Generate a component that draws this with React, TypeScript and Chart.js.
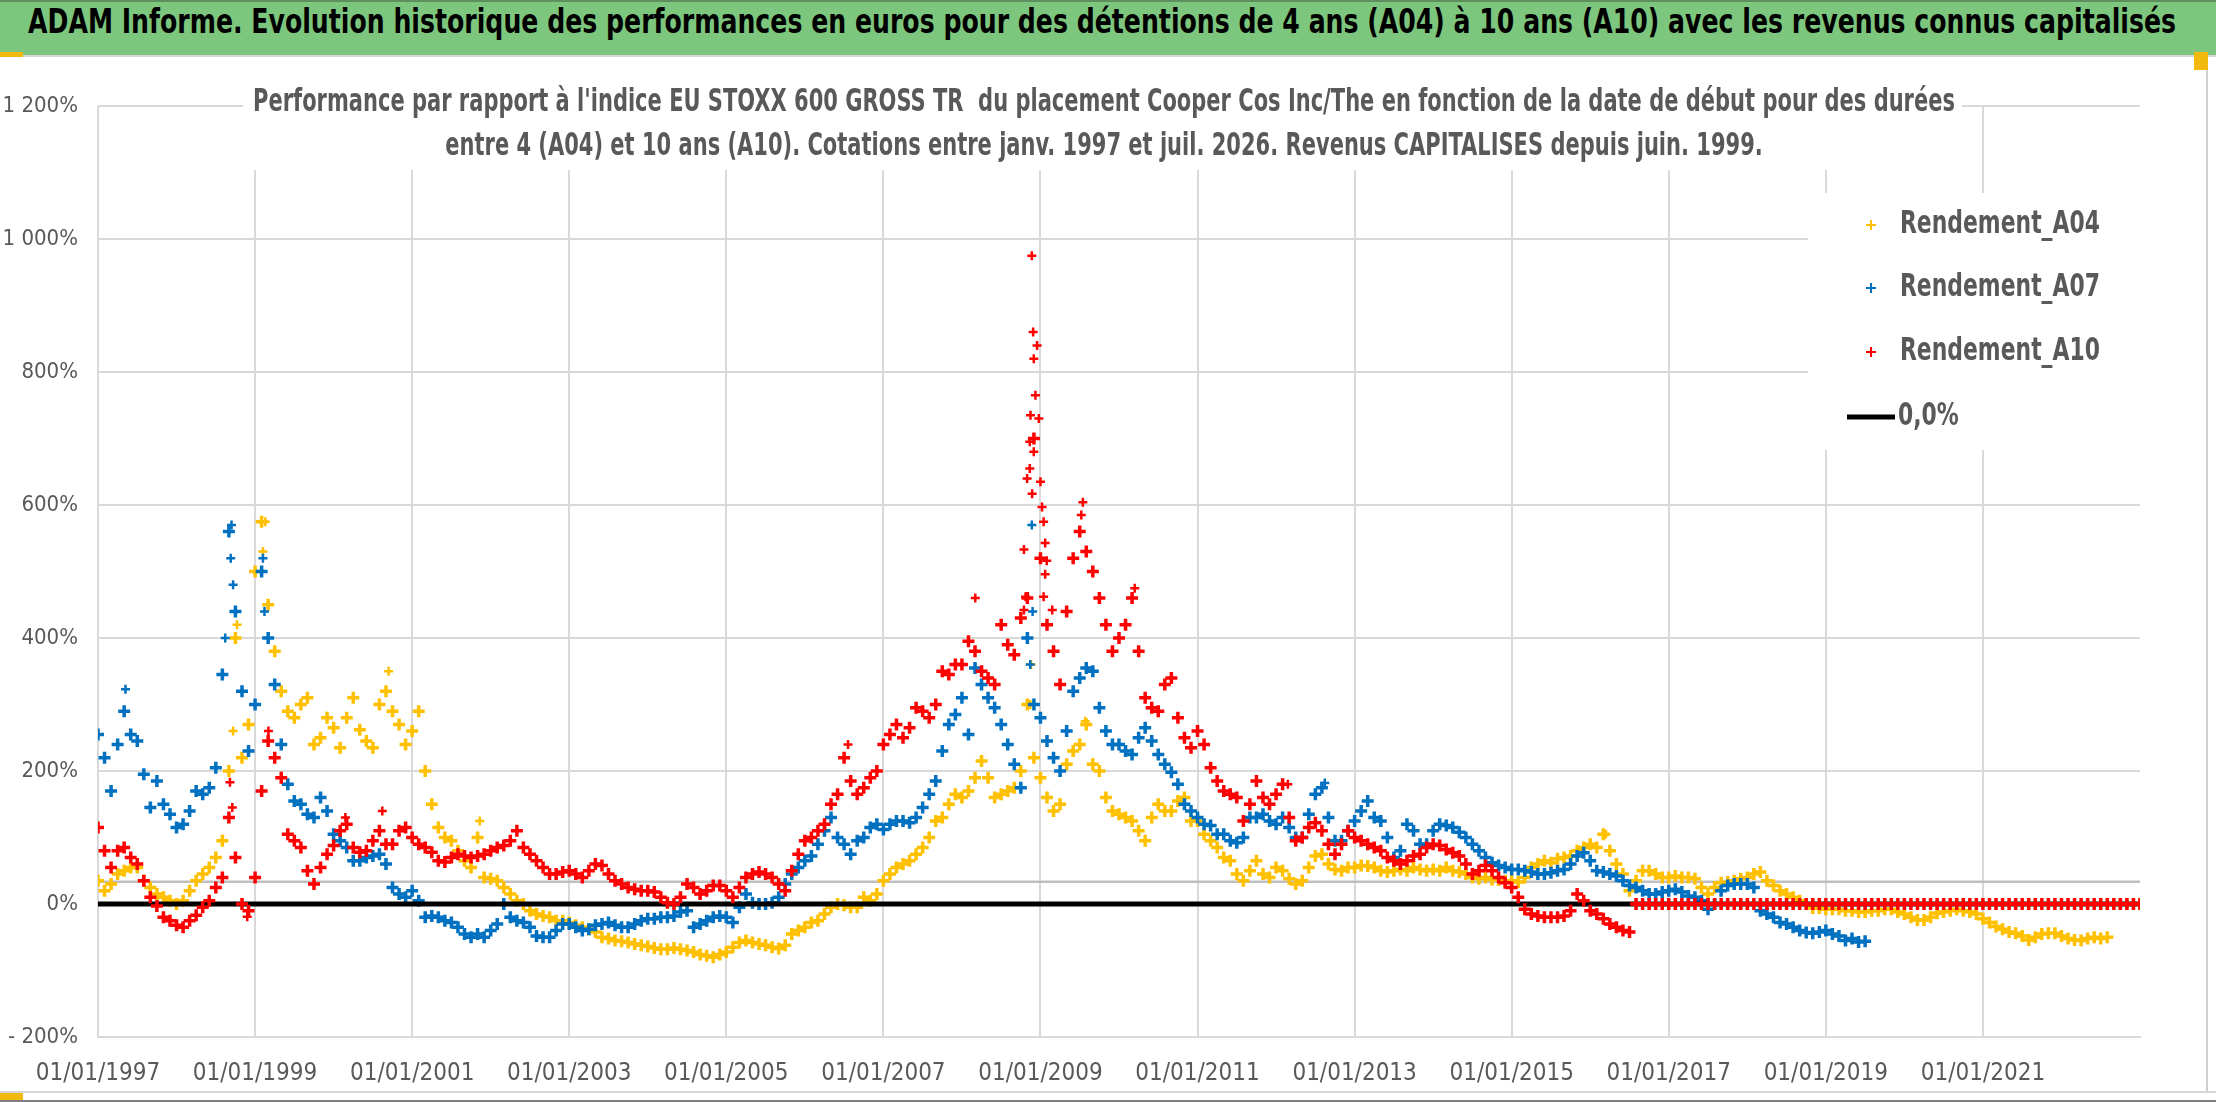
import React, { useEffect, useLayoutEffect, useRef } from "react";
import { Chart, registerables } from "chart.js";

Chart.register(...registerables);

const FONT = '"Liberation Sans Narrow", "Arial Narrow", "DejaVu Sans Condensed", "Liberation Sans", sans-serif';

// monthly readings, first value = January 1997
const startYear = 1997;
const xTickYears = [1997, 1999, 2001, 2003, 2005, 2007, 2009, 2011, 2013, 2015, 2017, 2019, 2021];

const rendementA04 = [
  35, 20, 30, 45, 50, 55, 55, 35, 25, 15, 10, 5,
  0, 5, 20, 35, 45, 55, 70, 95, 200, 400, 220, 270,
  500, 575, 450, 380, 320, 290, 280, 300, 310, 240, 250, 280,
  265, 235, 280, 310, 262, 245, 235, 300, 320, 290, 270, 240,
  260, 290, 200, 150, 115, 100, 95, 80, 65, 55, 100, 40,
  38, 35, 25, 15, 5, 0, -10, -15, -18, -20, -25, -25,
  -28, -32, -35, -38, -42, -50, -52, -55, -56, -58, -60, -62,
  -64, -66, -68, -68, -66, -68, -70, -72, -76, -78, -80, -76,
  -72, -65, -58, -55, -58, -60, -62, -65, -67, -62, -45, -40,
  -35, -28, -25, -15, -5, 0, -2, -5, -5, 10, 5, 15,
  35, 45, 55, 60, 65, 75, 85, 100, 125, 130, 150, 165,
  160, 170, 190, 215, 190, 160, 165, 170, 175, 200, 300, 220,
  190, 160, 140, 150, 210, 230, 240, 270, 210, 200, 160, 140,
  135, 130, 125, 110, 95, 130, 150, 140, 140, 155, 160, 125,
  125, 105, 95, 85, 70, 65, 45, 35, 50, 65, 45, 40,
  55, 50, 38, 30, 35, 55, 72, 75, 60, 52, 50, 55,
  55, 58, 57, 55, 50, 48, 50, 52, 50, 55, 52, 50,
  52, 50, 55, 50, 48, 45, 40, 38, 40, 37, 36, 35,
  35, 33, 40, 55, 60, 65, 62, 68, 70, 72, 80, 85,
  90, 85, 105, 80, 60, 45, 20, 35, 50, 50, 45, 40,
  40, 42, 40, 40, 38, 25, 15, 25, 32, 33, 35, 38,
  40, 45, 48, 35, 28, 20, 15, 10, 5, 0, -6, -6,
  -8, -8, -8, -10, -10, -12, -12, -10, -10, -8, -8, -12,
  -15, -20, -24, -24, -20, -14, -12, -10, -8, -10, -12, -15,
  -22, -28, -34, -38, -42, -44, -48, -54, -50, -45, -44, -44,
  -48, -52, -54, -55, -52, -50, -52, -50, 0, 0, 0, 0,
  0,
];

const rendementA07 = [
  255, 220, 170, 240, 290, 255, 245, 195, 145, 185, 150, 135,
  115, 120, 140, 170, 165, 175, 205, 345, 560, 440, 320, 230,
  300, 500, 400, 330, 240, 180, 155, 150, 135, 130, 160, 140,
  105, 95, 85, 65, 65, 70, 72, 75, 60, 25, 15, 10,
  20, 5, -20, -18, -20, -25, -28, -35, -45, -50, -45, -50,
  -40, -30, 0, -20, -25, -28, -35, -48, -50, -50, -40, -30,
  -30, -35, -40, -38, -32, -30, -28, -32, -35, -35, -30, -25,
  -22, -22, -20, -20, -18, -12, -10, -35, -30, -25, -20, -18,
  -20, -28, -5, 15, 2, 0, 0, 2, 10, 30, 45, 55,
  65, 72, 90, 110, 130, 100, 90, 75, 95, 100, 115, 120,
  112, 120, 125, 125, 122, 130, 145, 165, 185, 230, 270, 285,
  310, 255, 355, 330, 310, 295, 270, 240, 210, 175, 400, 300,
  280, 245, 220, 200, 260, 320, 340, 355, 350, 295, 260, 240,
  240, 230, 225, 250, 265, 245, 225, 210, 198, 180, 150, 140,
  130, 120, 118, 105, 105, 95, 92, 100, 130, 130, 135, 125,
  120, 130, 115, 100, 100, 135, 165, 175, 130, 95, 95, 110,
  125, 140, 155, 130, 125, 100, 70, 80, 120, 110, 90, 90,
  110, 120, 118, 115, 108, 100, 90, 80, 70, 62, 58, 55,
  52, 52, 50, 48, 45, 45, 47, 50, 52, 60, 72, 77,
  65, 50, 48, 45, 42, 35, 28, 25, 20, 15, 15, 18,
  20, 22, 18, 12, 10, 5, -8, 0, 20, 28, 30, 30,
  30, 25, -10, -15, -20, -28, -30, -35, -40, -43, -44, -42,
  -40, -45, -48, -55, -52, -57, -56,
];

const rendementA10 = [
  115, 80, 55, 80, 85, 70, 60, 35, 10, -3, -20, -25,
  -32, -35, -25, -17, -5, 5, 25, 40, 130, 70, 0, -10,
  40, 170, 245, 220, 190, 105, 95, 85, 50, 30, 55, 75,
  88, 110, 120, 85, 78, 80, 95, 110, 90, 90, 110, 115,
  100, 90, 85, 78, 65, 63, 70, 75, 72, 70, 72, 75,
  80, 85, 88, 95, 110, 85, 75, 65, 55, 45, 45, 48,
  50, 45, 40, 50, 60, 58, 45, 35, 30, 25, 22, 20,
  20, 18, 10, 2, 0, 10, 30, 25, 15, 20, 28, 28,
  20, 10, 25, 40, 45, 48, 45, 40, 30, 20, 50, 75,
  95, 100, 110, 120, 150, 165, 220, 185, 165, 175, 190, 200,
  240, 255, 270, 250, 265, 295, 290, 280, 300, 350, 345, 360,
  360, 395, 380, 350, 340, 330, 420, 390, 375, 430, 460, 700,
  520, 420, 380, 330, 440, 520, 560, 530, 500, 460, 420, 380,
  400, 420, 460, 380, 310, 295, 290, 330, 340, 280, 250, 235,
  260, 240, 205, 185, 170, 165, 160, 125, 150, 185, 160, 150,
  165, 180, 130, 95, 100, 115, 122, 110, 90, 75, 90, 110,
  100, 95, 90, 85, 80, 70, 65, 60, 65, 72, 75, 85,
  90, 88, 82, 77, 72, 60, 45, 50, 58, 50, 40, 32,
  25, 10, -8, -15, -18, -20, -20, -20, -18, -10, 15, 5,
  -10, -15, -22, -30, -35, -40, -42, 0, 0, 0, 0, 0,
  0, 0, 0, 0, 0, 0, 0, 0, 0, 0, 0, 0,
  0, 0, 0, 0, 0, 0, 0, 0, 0, 0, 0, 0,
  0, 0, 0, 0, 0, 0, 0, 0, 0, 0, 0, 0,
  0, 0, 0, 0, 0, 0, 0, 0, 0, 0, 0, 0,
  0, 0, 0, 0, 0, 0, 0, 0, 0, 0, 0, 0,
  0, 0, 0, 0, 0, 0, 0, 0, 0, 0, 0, 0,
  0,
];

// extra readings [decimal year, %] where the cloud is steep
const extraA04: [number, number][] = [
  [1998.72, 260], [1998.77, 420], [1999.1, 530], [1999.13, 575], [2000.7, 350],
  [2001.86, 125], [2008.87, 300], [2008.88, 360], [2009.57, 275], [2016.2, 105],
];
const extraA07: [number, number][] = [
  [1997.35, 323], [1998.62, 400], [1998.69, 520], [1998.7, 570], [1998.72, 480],
  [1999.1, 520], [1999.12, 440], [2008.87, 360], [2008.89, 570], [2008.9, 440], [2012.62, 182],
];
const extraA10: [number, number][] = [
  [1998.68, 183], [1998.71, 145], [1998.9, -19], [1999.17, 260], [2000.15, 130],
  [2000.62, 140], [2006.55, 240], [2008.17, 460],
  [2008.79, 442], [2008.79, 533], [2008.81, 462], [2008.83, 640], [2008.864, 655],
  [2008.864, 695], [2008.873, 735], [2008.89, 975], [2008.894, 617], [2008.907, 860],
  [2008.915, 820], [2008.915, 680], [2008.936, 765], [2008.957, 840], [2008.979, 730],
  [2009.0, 635], [2009.02, 597], [2009.04, 575], [2009.04, 462], [2009.06, 543],
  [2009.06, 496], [2009.08, 516], [2009.15, 442], [2009.52, 585], [2009.54, 604],
  [2010.2, 475], [2012.15, 180],
];

const zeroLevel = 0;
const greyLevel = 33.5;

const seriesLabels = ["Rendement_A04", "Rendement_A07", "Rendement_A10", "0,0%"];
const seriesColors = ["#FFC000", "#0070C0", "#FF0000", "#000000"];

const headerText =
  "ADAM Informe. Evolution historique des performances en euros pour des détentions de 4 ans (A04) à 10 ans (A10) avec les revenus connus capitalisés";
const titleLines = [
  "Performance par rapport à l'indice EU STOXX 600 GROSS TR  du placement Cooper Cos Inc/The en fonction de la date de début pour des durées",
  "entre 4 (A04) et 10 ans (A10). Cotations entre janv. 1997 et juil. 2026. Revenus CAPITALISES depuis juin. 1999.",
];

const toPoints = (monthly: number[], extra: [number, number][]) =>
  monthly
    .map((v, i) => ({ x: startYear + i / 12, y: v }))
    .concat(extra.map(([x, y]) => ({ x, y })));

const formatPct = (v: number) => {
  if (v < 0) return "- " + Math.abs(v) + "%";
  if (v >= 1000) return Math.floor(v / 1000) + " " + String(v % 1000).padStart(3, "0") + "%";
  return v + "%";
};

const overlayPlugin = {
  id: "overlay",
  beforeDatasetsDraw(chart: any) {
    const ctx = chart.ctx;
    ctx.save();
    ctx.fillStyle = "#FFFFFF";
    ctx.fillRect(243, 28, 1962 - 243, 113 - 28);
    ctx.fillStyle = "#595959";
    ctx.font = `bold 32px ${FONT}`;
    ctx.textBaseline = "middle";
    ctx.textAlign = "center";
    const s = 1702 / ctx.measureText(titleLines[0]).width;
    [46, 90].forEach((y, i) => {
      ctx.save();
      ctx.translate(1104, y);
      ctx.scale(s, 1);
      ctx.fillText(titleLines[i], 0, 0);
      ctx.restore();
    });
    ctx.restore();
  },
  afterDatasetsDraw(chart: any) {
    const ctx = chart.ctx;
    ctx.save();
    ctx.fillStyle = "#FFFFFF";
    ctx.fillRect(1808, 136, 2140 - 1808, 393 - 136);
    ctx.font = `bold 32px ${FONT}`;
    ctx.textBaseline = "middle";
    ctx.textAlign = "left";
    const s = 200 / ctx.measureText(seriesLabels[0]).width;
    const rows = [168, 231, 295, 360];
    rows.forEach((y, i) => {
      if (i < 3) {
        ctx.strokeStyle = seriesColors[i];
        ctx.lineWidth = 2;
        ctx.beginPath();
        ctx.moveTo(1866, y);
        ctx.lineTo(1876, y);
        ctx.moveTo(1871, y - 5);
        ctx.lineTo(1871, y + 5);
        ctx.stroke();
      } else {
        ctx.strokeStyle = "#000000";
        ctx.lineWidth = 5;
        ctx.beginPath();
        ctx.moveTo(1847, y);
        ctx.lineTo(1895, y);
        ctx.stroke();
      }
      ctx.save();
      ctx.translate(i < 3 ? 1900 : 1898, y);
      ctx.scale(s, 1);
      ctx.fillStyle = "#595959";
      ctx.fillText(seriesLabels[i], 0, 0);
      ctx.restore();
    });
    ctx.restore();
  },
};

const App: React.FC = () => {
  const chartRef = useRef<HTMLCanvasElement | null>(null);
  const chartInstance = useRef<Chart | null>(null);
  const headerRef = useRef<HTMLSpanElement | null>(null);

  useLayoutEffect(() => {
    document.body.style.margin = "0";
    const el = headerRef.current;
    if (el) {
      el.style.transform = "none";
      const w = el.getBoundingClientRect().width;
      el.style.transform = `scaleX(${2148 / w})`;
    }
  }, []);

  useEffect(() => {
    const ctx = chartRef.current?.getContext("2d");
    if (!ctx) return;
    if (chartInstance.current) chartInstance.current.destroy();

    // monthly readings get a heavier cross so they read as the dense daily cloud
    const scatterStyle = (color: string, order: number, monthlyCount: number) => ({
      pointStyle: "cross" as const,
      pointRadius: (c: any) => (c.dataIndex < monthlyCount ? 6 : 4.5),
      pointHoverRadius: 6,
      pointBorderWidth: (c: any) => (c.dataIndex < monthlyCount ? 3.5 : 2.5),
      borderColor: color,
      backgroundColor: color,
      order,
    });

    chartInstance.current = new Chart(ctx, {
      type: "scatter",
      data: {
        datasets: [
          {
            label: seriesLabels[2],
            data: toPoints(rendementA10, extraA10),
            ...scatterStyle(seriesColors[2], 0, rendementA10.length),
          },
          {
            type: "line",
            label: seriesLabels[3],
            data: [
              { x: startYear, y: zeroLevel },
              { x: 2023, y: zeroLevel },
            ],
            borderColor: "#000000",
            borderWidth: 5,
            pointRadius: 0,
            order: 1,
          },
          {
            label: seriesLabels[1],
            data: toPoints(rendementA07, extraA07),
            ...scatterStyle(seriesColors[1], 2, rendementA07.length),
          },
          {
            label: seriesLabels[0],
            data: toPoints(rendementA04, extraA04),
            ...scatterStyle(seriesColors[0], 3, rendementA04.length),
          },
          {
            type: "line",
            label: "niveau",
            data: [
              { x: startYear, y: greyLevel },
              { x: 2023, y: greyLevel },
            ],
            borderColor: "#BFBFBF",
            borderWidth: 2.5,
            pointRadius: 0,
            order: 4,
          },
        ] as any,
      },
      options: {
        animation: false,
        responsive: false,
        layout: { padding: { top: 49, right: 76, left: 0, bottom: 0 } },
        plugins: {
          legend: { display: false },
          tooltip: { enabled: false },
          title: { display: false },
        },
        scales: {
          x: {
            type: "linear",
            min: startYear,
            max: 2023,
            afterBuildTicks: (scale: any) => {
              scale.ticks = xTickYears.map((v) => ({ value: v }));
            },
            afterFit: (scale: any) => {
              scale.height = 65;
            },
            grid: { color: "#D9D9D9", lineWidth: 2, drawTicks: false },
            border: { color: "#D9D9D9", width: 2 },
            ticks: {
              padding: 22,
              color: "#595959",
              font: { family: FONT, size: 24 },
              maxRotation: 0,
              autoSkip: false,
              callback: (v: any) => "01/01/" + v,
            },
          },
          y: {
            min: -200,
            max: 1200,
            afterFit: (scale: any) => {
              scale.width = 98;
            },
            grid: { color: "#D9D9D9", lineWidth: 2, drawTicks: false },
            border: { display: false },
            ticks: {
              stepSize: 200,
              padding: 20,
              color: "#595959",
              font: { family: FONT, size: 22 },
              callback: (v: any) => formatPct(Number(v)),
            },
          },
        },
      },
      plugins: [overlayPlugin],
    });

    return () => {
      if (chartInstance.current) {
        chartInstance.current.destroy();
        chartInstance.current = null;
      }
    };
  }, []);

  return (
    <div style={{ position: "relative", width: 2216, height: 1102, background: "#FFFFFF", overflow: "hidden" }}>
      <div
        style={{
          position: "absolute",
          left: 0,
          top: 0,
          width: 2216,
          height: 55,
          background: "#7DC67D",
          borderTop: "2px solid #5E8F5E",
          boxSizing: "border-box",
        }}
      >
        <span
          ref={headerRef}
          style={{
            position: "absolute",
            left: 28,
            top: 0,
            lineHeight: "53px",
            whiteSpace: "nowrap",
            font: `bold 33px ${FONT}`,
            color: "#000000",
            transformOrigin: "left center",
          }}
        >
          {headerText}
        </span>
      </div>
      <div style={{ position: "absolute", left: 0, top: 55, width: 2216, height: 2, background: "#D6D6D6" }} />
      <div style={{ position: "absolute", left: 0, top: 52, width: 23, height: 5, background: "#F2B90F" }} />
      <canvas
        ref={chartRef}
        width={2216}
        height={1045}
        style={{ position: "absolute", left: 0, top: 57, display: "block" }}
      ></canvas>
      <div style={{ position: "absolute", left: 2206, top: 57, width: 2, height: 1036, background: "#D0D0D0" }} />
      <div style={{ position: "absolute", left: 2194, top: 52, width: 14, height: 18, background: "#F2B90F" }} />
      <div style={{ position: "absolute", left: 0, top: 1091, width: 2216, height: 2, background: "#D6D6D6" }} />
      <div style={{ position: "absolute", left: 0, top: 1093, width: 23, height: 7, background: "#F2B90F" }} />
      <div style={{ position: "absolute", left: 0, top: 1100, width: 2216, height: 2, background: "#7F7F7F" }} />
    </div>
  );
};

export default App;
